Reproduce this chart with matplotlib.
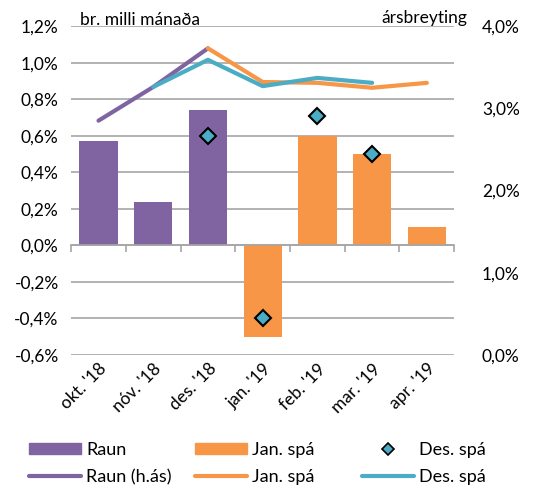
import matplotlib.pyplot as plt
from matplotlib.lines import Line2D
from matplotlib.patches import Patch
import numpy as np

plt.rcParams['font.family'] = ['Lato', 'DejaVu Sans']

months = ["okt. '18", "nóv. '18", "des. '18", "jan. '19", "feb. '19", "mar. '19", "apr. '19"]
raun = [0.57, 0.24, 0.74, np.nan, np.nan, np.nan, np.nan]
jan_spa = [np.nan, np.nan, np.nan, -0.50, 0.60, 0.50, 0.10]
des_spa = [np.nan, np.nan, 0.60, -0.40, 0.71, 0.50, np.nan]

# yearly change, right axis
raun_ar = [2.85, 3.26, 3.73, np.nan, np.nan, np.nan, np.nan]
jan_spa_ar = [np.nan, np.nan, 3.73, 3.32, 3.31, 3.25, 3.31]
des_spa_ar = [np.nan, 3.26, 3.59, 3.27, 3.37, 3.31, np.nan]

PURPLE = '#8064A2'
ORANGE = '#F79646'
BLUE = '#4BACC6'
FS = 12.5

fig = plt.figure(figsize=(5.35, 4.88), dpi=100)
ax = fig.add_axes([0.133, 0.2725, 0.716, 0.674])
x = np.arange(len(months))

ax.bar(x, raun, width=0.7, color=PURPLE, zorder=2)
ax.bar(x, jan_spa, width=0.7, color=ORANGE, zorder=2)
ax.plot(x, des_spa, linestyle='none', marker='D', markersize=8.5,
        markerfacecolor=BLUE, markeredgecolor='black', markeredgewidth=1.5, zorder=5)

yt = np.arange(-0.6, 1.21, 0.2)
ax.set_ylim(-0.6, 1.2)
ax.set_yticks(yt)
ax.set_yticklabels([('%.1f%%' % v).replace('.', ',').replace('-0,0', '0,0') for v in yt])
ax.set_xlim(-0.5, len(months) - 0.5)
ax.grid(axis='y', color='#A6A6A6', linewidth=1.2, zorder=0)
ax.set_axisbelow(True)
for s in ['top', 'left', 'right']:
    ax.spines[s].set_visible(False)
ax.spines['bottom'].set_position(('data', 0))
ax.spines['bottom'].set_color('#A6A6A6')
ax.spines['bottom'].set_linewidth(1.2)
ax.tick_params(axis='y', length=0, labelsize=FS, pad=9)
ax.set_xticks(x)
ax.set_xticklabels(months, rotation=45, ha='right', rotation_mode='anchor', fontsize=FS)
ax.set_xticks(np.arange(-0.5, len(months)), minor=True)
ax.tick_params(axis='x', which='major', length=0, pad=83)
ax.tick_params(axis='x', which='minor', length=5, color='#A6A6A6', width=1.2)

ax2 = ax.twinx()
ax2.set_ylim(0, 4)
ax2.set_yticks([0, 1, 2, 3, 4])
ax2.set_yticklabels(['0,0%', '1,0%', '2,0%', '3,0%', '4,0%'])
ax2.tick_params(axis='y', length=0, labelsize=FS, pad=20)
for s in ['top', 'left', 'right', 'bottom']:
    ax2.spines[s].set_visible(False)
ax2.plot(x, raun_ar, color=PURPLE, linewidth=3, solid_capstyle='round', zorder=3)
ax2.plot(x, jan_spa_ar, color=ORANGE, linewidth=3, solid_capstyle='round', zorder=3)
ax2.plot(x, des_spa_ar, color=BLUE, linewidth=3, solid_capstyle='round', zorder=4)

ax.text(0.024, 1.003, 'br. milli mánaða', transform=ax.transAxes, fontsize=FS, va='baseline', ha='left')
ax.text(1.034, 1.008, 'ársbreyting', transform=ax.transAxes, fontsize=FS, va='baseline', ha='right')

# legend: three evenly spaced columns, like the original
legend_cols = [
    ([Patch(color=PURPLE), Line2D([], [], color=PURPLE, linewidth=3, solid_capstyle='round')],
     ['Raun', 'Raun (h.ás)']),
    ([Patch(color=ORANGE), Line2D([], [], color=ORANGE, linewidth=3, solid_capstyle='round')],
     ['Jan. spá', 'Jan. spá']),
    ([Line2D([], [], linestyle='none', marker='D', markersize=6, markerfacecolor=BLUE,
             markeredgecolor='black', markeredgewidth=1.2),
      Line2D([], [], color=BLUE, linewidth=3, solid_capstyle='round')],
     ['Des. spá', 'Des. spá']),
]
col_x = [29, 195, 362]
for (h, l), cx in zip(legend_cols, col_x):
    fig.legend(h, l, loc='upper left', bbox_to_anchor=(cx / 535, 1 - 442 / 488),
               frameon=False, fontsize=13, handlelength=2.88, handleheight=0.55,
               labelspacing=0.6, handletextpad=0.3, borderpad=0, borderaxespad=0)

fig.savefig('out.png', dpi=100)
